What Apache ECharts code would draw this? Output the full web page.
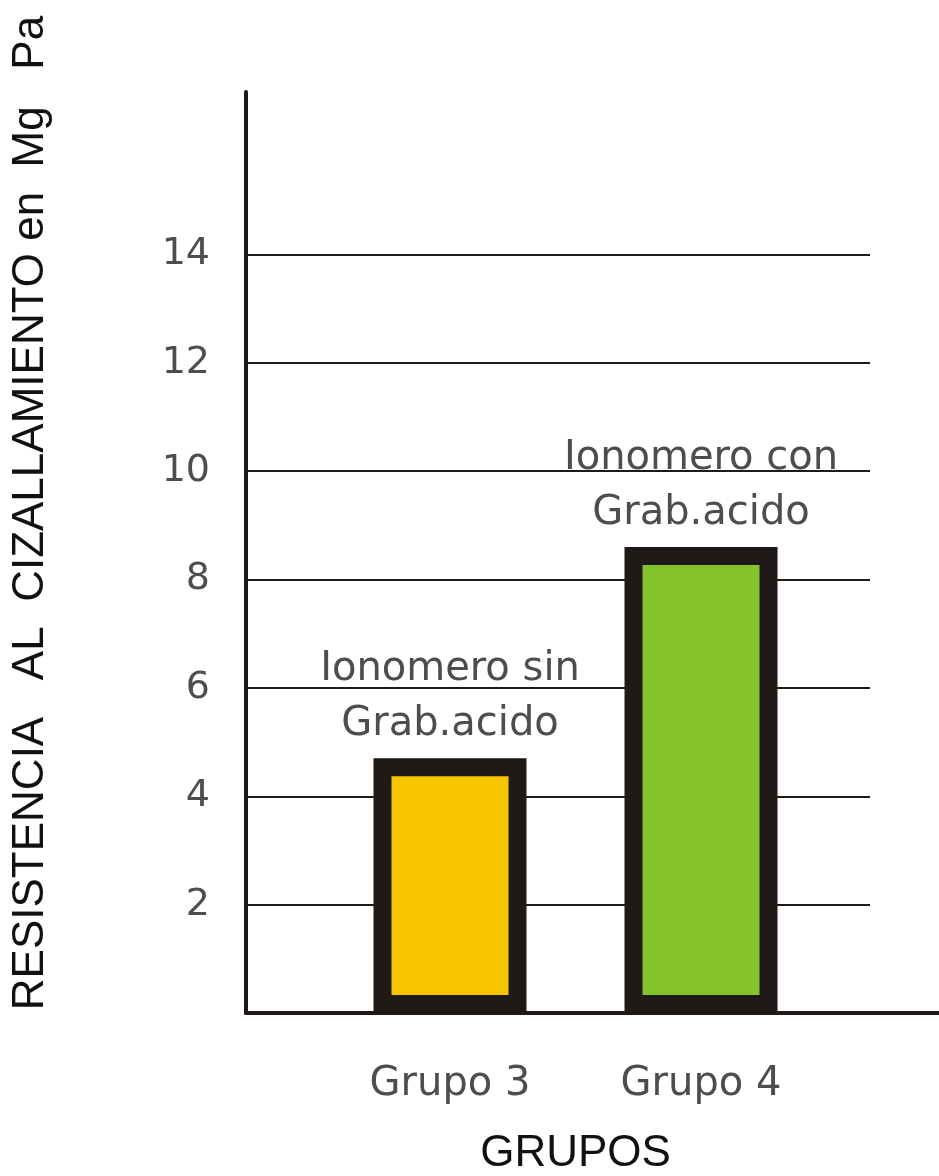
<!DOCTYPE html>
<html>
<head>
<meta charset="utf-8">
<script src="https://cdn.jsdelivr.net/npm/echarts@6/dist/echarts.min.js"></script>
<style>
  html, body { margin: 0; padding: 0; background: #ffffff; }
  #chart { width: 939px; height: 1176px; }
</style>
</head>
<body>
<div id="chart"></div>
<script>
// Shear bond strength by group (MPa)
const categories = ['Grupo 3', 'Grupo 4'];
const resistencia = [4.7, 8.6];
const barLabels = ['Ionomero sin\nGrab.acido', 'Ionomero con\nGrab.acido'];
const barColors = ['#F7C400', '#84C32A'];
const yTicks = [2, 4, 6, 8, 10, 12, 14];
const yTitle = 'RESISTENCIA   AL  CIZALLAMIENTO en  Mg   Pa';
const xTitle = 'GRUPOS';

const INK = '#1f1a17';
const GREY = '#4d4d4d';
const Y_MAX = 17;
const GRID_END = (870 - 246) / (939 - 246); // gridlines stop short of the long baseline

const chart = echarts.init(document.getElementById('chart'), null, { renderer: 'canvas' });

chart.setOption({
  backgroundColor: '#ffffff',
  animation: false,
  grid: [
    { left: 246, right: 0, top: 92, bottom: 163, outerBoundsMode: 'none', containLabel: false },
    { left: 324.5, width: 502, top: 92, bottom: 163, outerBoundsMode: 'none', containLabel: false }
  ],
  xAxis: [
    {
      gridIndex: 0, type: 'value', min: 0, max: 1,
      axisLine: { show: true, lineStyle: { color: INK, width: 4 } },
      axisTick: { show: false }, axisLabel: { show: false }, splitLine: { show: false }
    },
    {
      gridIndex: 1, type: 'category', data: categories,
      axisLine: { show: false }, axisTick: { show: false }, splitLine: { show: false },
      axisLabel: { color: GREY, fontSize: 40, fontFamily: 'DejaVu Sans', margin: 52 },
      name: xTitle, nameLocation: 'middle', nameGap: 119,
      nameTextStyle: { color: '#111111', fontSize: 44, fontFamily: 'Liberation Sans' }
    }
  ],
  yAxis: [
    {
      gridIndex: 0, type: 'value', min: 0, max: Y_MAX, interval: 2,
      axisLine: { show: true, lineStyle: { color: INK, width: 4 } },
      axisTick: { show: false }, splitLine: { show: false },
      axisLabel: {
        color: GREY, fontSize: 38, fontFamily: 'DejaVu Sans', margin: 36,
        formatter: v => (yTicks.indexOf(v) >= 0 ? String(v) : '')
      }
    },
    {
      gridIndex: 1, type: 'value', min: 0, max: Y_MAX, interval: 2, show: false
    }
  ],
  series: [
    {
      // horizontal gridlines
      type: 'line', xAxisIndex: 0, yAxisIndex: 0, data: [], z: 1, silent: true,
      markLine: {
        silent: true, symbol: 'none', animation: false,
        label: { show: false },
        lineStyle: { color: INK, width: 2, type: 'solid' },
        data: yTicks.map(v => [{ coord: [0, v] }, { coord: [GRID_END, v] }])
      }
    },
    {
      type: 'bar', xAxisIndex: 1, yAxisIndex: 1, z: 5,
      barWidth: 153,
      data: resistencia.map((v, i) => ({
        value: v,
        itemStyle: { color: barColors[i], borderColor: INK, borderWidth: 18 }
      })),
      label: {
        show: true, position: 'top', distance: 6,
        color: GREY, fontSize: 40, fontFamily: 'DejaVu Sans', lineHeight: 55,
        formatter: p => barLabels[p.dataIndex]
      }
    }
  ],
  graphic: [
    {
      type: 'text', x: 31, y: 513, rotation: Math.PI / 2,
      style: {
        text: yTitle, fill: '#111111', fontSize: 44, fontFamily: 'Liberation Sans',
        textAlign: 'center', textVerticalAlign: 'middle'
      }
    }
  ]
});
</script>
</body>
</html>
